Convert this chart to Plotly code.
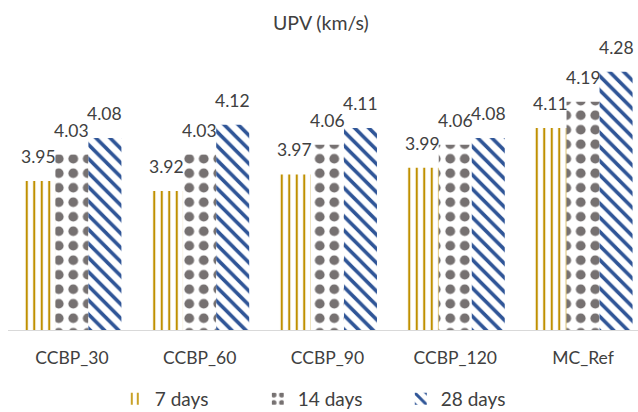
import plotly.graph_objects as go

# Ultrasonic pulse velocity by mix and curing age
categories = ["CCBP_30", "CCBP_60", "CCBP_90", "CCBP_120", "MC_Ref"]
series_names = ["7 days", "14 days", "28 days"]
upv_7 = [3.95, 3.92, 3.97, 3.99, 4.11]
upv_14 = [4.03, 4.03, 4.06, 4.06, 4.19]
upv_28 = [4.08, 4.12, 4.11, 4.08, 4.28]

series_values = [upv_7, upv_14, upv_28]
colors = ["#BF9000", "#767171", "#2F5597"]
patterns = [
    dict(shape="|", size=7.5, solidity=0.28),
    dict(shape=".", size=14.5, solidity=0.36),
    dict(shape="\\", size=10, solidity=0.36),
]

FONT = "Lato"
TEXT = "#404040"

fig = go.Figure()
for name, vals, col, pat in zip(series_names, series_values, colors, patterns):
    fig.add_trace(go.Bar(
        x=categories,
        y=vals,
        name=name,
        marker=dict(
            color="white",
            line=dict(color="rgba(255,255,255,0)", width=0),
            pattern=dict(fgcolor=col, bgcolor="white", fillmode="replace", **pat),
        ),
    ))

# value labels above each bar
bar_px = 33
for i, vals in enumerate(series_values):
    for cat, v in zip(categories, vals):
        fig.add_annotation(
            x=cat, y=v, text=f"{v:.2f}", showarrow=False,
            xshift=(i - 1) * bar_px, yshift=12, yanchor="bottom",
            font=dict(family=FONT, size=17.5, color=TEXT),
        )

fig.update_layout(
    width=638, height=412,
    margin=dict(l=8, r=0, t=50, b=82),
    paper_bgcolor="white", plot_bgcolor="white",
    barmode="group", bargap=0.225, bargroupgap=0,
    title=dict(
        text="UPV (km/s)", x=0.503, xanchor="center",
        y=1 - 23 / 412, yanchor="middle", yref="container",
        font=dict(family=FONT, size=19.5, color=TEXT),
    ),
    xaxis=dict(
        range=[-0.5, 4.43], showline=True, linecolor="#D9D9D9", linewidth=1.3,
        ticks="", showgrid=False, ticklabelstandoff=12,
        tickfont=dict(family=FONT, size=17.5, color=TEXT),
    ),
    yaxis=dict(range=[3.5, 4.346], visible=False, showgrid=False),
    legend=dict(
        orientation="h", x=0.51, xanchor="center",
        y=1 - 399 / 412, yanchor="middle", yref="container",
        font=dict(family=FONT, size=19, color=TEXT),
        entrywidth=98, itemsizing="constant",
    ),
    showlegend=True,
)

fig.write_html("out.html")
